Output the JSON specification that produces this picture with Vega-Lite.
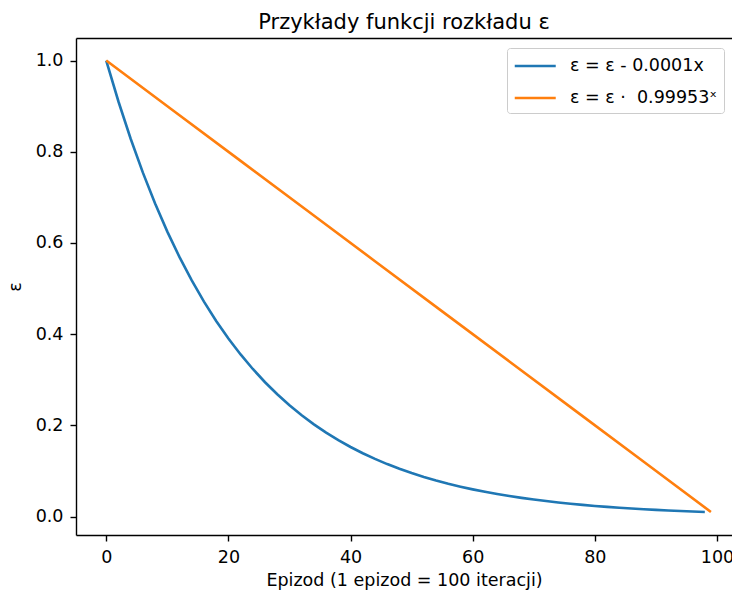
{
  "$schema": "https://vega.github.io/schema/vega-lite/v6.json",
  "width": 656,
  "height": 497,
  "autosize": {"type": "none"},
  "padding": {"left": 76, "top": 38, "right": 0, "bottom": 59},
  "background": "white",
  "title": {"text": "Przykłady funkcji rozkładu ε", "font": "DejaVu Sans", "fontSize": 21, "fontWeight": "normal", "color": "black", "anchor": "middle", "offset": 5},
  "config": {
    "view": {"stroke": null},
    "axis": {"labelFont": "DejaVu Sans", "labelFontSize": 17.5, "labelColor": "black", "titleFont": "DejaVu Sans", "titleFontSize": 17.5, "titleFontWeight": "normal", "titleColor": "black", "domainColor": "black", "domainWidth": 1.4, "tickColor": "black", "tickWidth": 1.4, "tickSize": 6, "labelPadding": 7, "grid": false}
  },
  "data": {"values": [
    {"series": "ε = ε - 0.0001x", "x": 0, "y": 1.0},
    {"series": "ε = ε - 0.0001x", "x": 2, "y": 0.91026},
    {"series": "ε = ε - 0.0001x", "x": 4, "y": 0.82857},
    {"series": "ε = ε - 0.0001x", "x": 6, "y": 0.75422},
    {"series": "ε = ε - 0.0001x", "x": 8, "y": 0.68653},
    {"series": "ε = ε - 0.0001x", "x": 10, "y": 0.62493},
    {"series": "ε = ε - 0.0001x", "x": 12, "y": 0.56885},
    {"series": "ε = ε - 0.0001x", "x": 14, "y": 0.5178},
    {"series": "ε = ε - 0.0001x", "x": 16, "y": 0.47133},
    {"series": "ε = ε - 0.0001x", "x": 18, "y": 0.42903},
    {"series": "ε = ε - 0.0001x", "x": 20, "y": 0.39054},
    {"series": "ε = ε - 0.0001x", "x": 22, "y": 0.35549},
    {"series": "ε = ε - 0.0001x", "x": 24, "y": 0.32359},
    {"series": "ε = ε - 0.0001x", "x": 26, "y": 0.29455},
    {"series": "ε = ε - 0.0001x", "x": 28, "y": 0.26812},
    {"series": "ε = ε - 0.0001x", "x": 30, "y": 0.24406},
    {"series": "ε = ε - 0.0001x", "x": 32, "y": 0.22216},
    {"series": "ε = ε - 0.0001x", "x": 34, "y": 0.20222},
    {"series": "ε = ε - 0.0001x", "x": 36, "y": 0.18407},
    {"series": "ε = ε - 0.0001x", "x": 38, "y": 0.16756},
    {"series": "ε = ε - 0.0001x", "x": 40, "y": 0.15252},
    {"series": "ε = ε - 0.0001x", "x": 42, "y": 0.13884},
    {"series": "ε = ε - 0.0001x", "x": 44, "y": 0.12638},
    {"series": "ε = ε - 0.0001x", "x": 46, "y": 0.11504},
    {"series": "ε = ε - 0.0001x", "x": 48, "y": 0.10471},
    {"series": "ε = ε - 0.0001x", "x": 50, "y": 0.09532},
    {"series": "ε = ε - 0.0001x", "x": 52, "y": 0.08676},
    {"series": "ε = ε - 0.0001x", "x": 54, "y": 0.07898},
    {"series": "ε = ε - 0.0001x", "x": 56, "y": 0.07189},
    {"series": "ε = ε - 0.0001x", "x": 58, "y": 0.06544},
    {"series": "ε = ε - 0.0001x", "x": 60, "y": 0.05954},
    {"series": "ε = ε - 0.0001x", "x": 62, "y": 0.0542},
    {"series": "ε = ε - 0.0001x", "x": 64, "y": 0.04933},
    {"series": "ε = ε - 0.0001x", "x": 66, "y": 0.04491},
    {"series": "ε = ε - 0.0001x", "x": 68, "y": 0.04088},
    {"series": "ε = ε - 0.0001x", "x": 70, "y": 0.03723},
    {"series": "ε = ε - 0.0001x", "x": 72, "y": 0.03388},
    {"series": "ε = ε - 0.0001x", "x": 74, "y": 0.03084},
    {"series": "ε = ε - 0.0001x", "x": 76, "y": 0.02808},
    {"series": "ε = ε - 0.0001x", "x": 78, "y": 0.02556},
    {"series": "ε = ε - 0.0001x", "x": 80, "y": 0.02326},
    {"series": "ε = ε - 0.0001x", "x": 82, "y": 0.02117},
    {"series": "ε = ε - 0.0001x", "x": 84, "y": 0.01927},
    {"series": "ε = ε - 0.0001x", "x": 86, "y": 0.01754},
    {"series": "ε = ε - 0.0001x", "x": 88, "y": 0.01597},
    {"series": "ε = ε - 0.0001x", "x": 90, "y": 0.01454},
    {"series": "ε = ε - 0.0001x", "x": 92, "y": 0.01323},
    {"series": "ε = ε - 0.0001x", "x": 94, "y": 0.01205},
    {"series": "ε = ε - 0.0001x", "x": 96, "y": 0.01096},
    {"series": "ε = ε - 0.0001x", "x": 98, "y": 0.01},
    {"series": "ε = ε ·\u00a0 0.99953ˣ", "x": 0, "y": 1.0},
    {"series": "ε = ε ·\u00a0 0.99953ˣ", "x": 11, "y": 0.89},
    {"series": "ε = ε ·\u00a0 0.99953ˣ", "x": 22, "y": 0.78},
    {"series": "ε = ε ·\u00a0 0.99953ˣ", "x": 33, "y": 0.67},
    {"series": "ε = ε ·\u00a0 0.99953ˣ", "x": 44, "y": 0.56},
    {"series": "ε = ε ·\u00a0 0.99953ˣ", "x": 55, "y": 0.45},
    {"series": "ε = ε ·\u00a0 0.99953ˣ", "x": 66, "y": 0.34},
    {"series": "ε = ε ·\u00a0 0.99953ˣ", "x": 77, "y": 0.23},
    {"series": "ε = ε ·\u00a0 0.99953ˣ", "x": 88, "y": 0.12},
    {"series": "ε = ε ·\u00a0 0.99953ˣ", "x": 99, "y": 0.01}
  ]},
  "layer": [
    {
      "mark": {"type": "line", "strokeWidth": 2.6, "clip": true},
      "encoding": {
        "x": {"field": "x", "type": "quantitative", "scale": {"domain": [-4.95, 102.45], "nice": false, "zero": false}, "axis": {"values": [0, 20, 40, 60, 80, 100], "format": "d", "title": "Epizod (1 epizod = 100 iteracji)", "titlePadding": 6}},
        "y": {"field": "y", "type": "quantitative", "scale": {"domain": [-0.0405, 1.0495], "nice": false, "zero": false}, "axis": {"values": [0, 0.2, 0.4, 0.6, 0.8, 1.0], "format": ".1f", "title": "ε", "titlePadding": 11}},
        "color": {"field": "series", "type": "nominal", "sort": ["ε = ε - 0.0001x", "ε = ε ·\u00a0 0.99953ˣ"], "scale": {"domain": ["ε = ε - 0.0001x", "ε = ε ·\u00a0 0.99953ˣ"], "range": ["#1f77b4", "#ff7f0e"]},
          "legend": {"title": null, "orient": "none", "legendX": 431, "legendY": 10, "symbolType": "M-1,0H3", "symbolSize": 420, "symbolStrokeWidth": 2.6, "labelFont": "DejaVu Sans", "labelFontSize": 17.5, "labelColor": "black", "labelOffset": 33, "rowPadding": 11, "padding": 6, "strokeColor": "#cccccc", "fillColor": "white", "cornerRadius": 3}}
      }
    },
    {
      "mark": {"type": "line", "opacity": 0},
      "encoding": {
        "x": {"field": "x", "type": "quantitative", "axis": {"orient": "top", "labels": false, "ticks": false, "title": null, "domainWidth": 1.4}},
        "y": {"field": "y", "type": "quantitative"}
      }
    }
  ],
  "resolve": {"axis": {"x": "independent"}}
}
